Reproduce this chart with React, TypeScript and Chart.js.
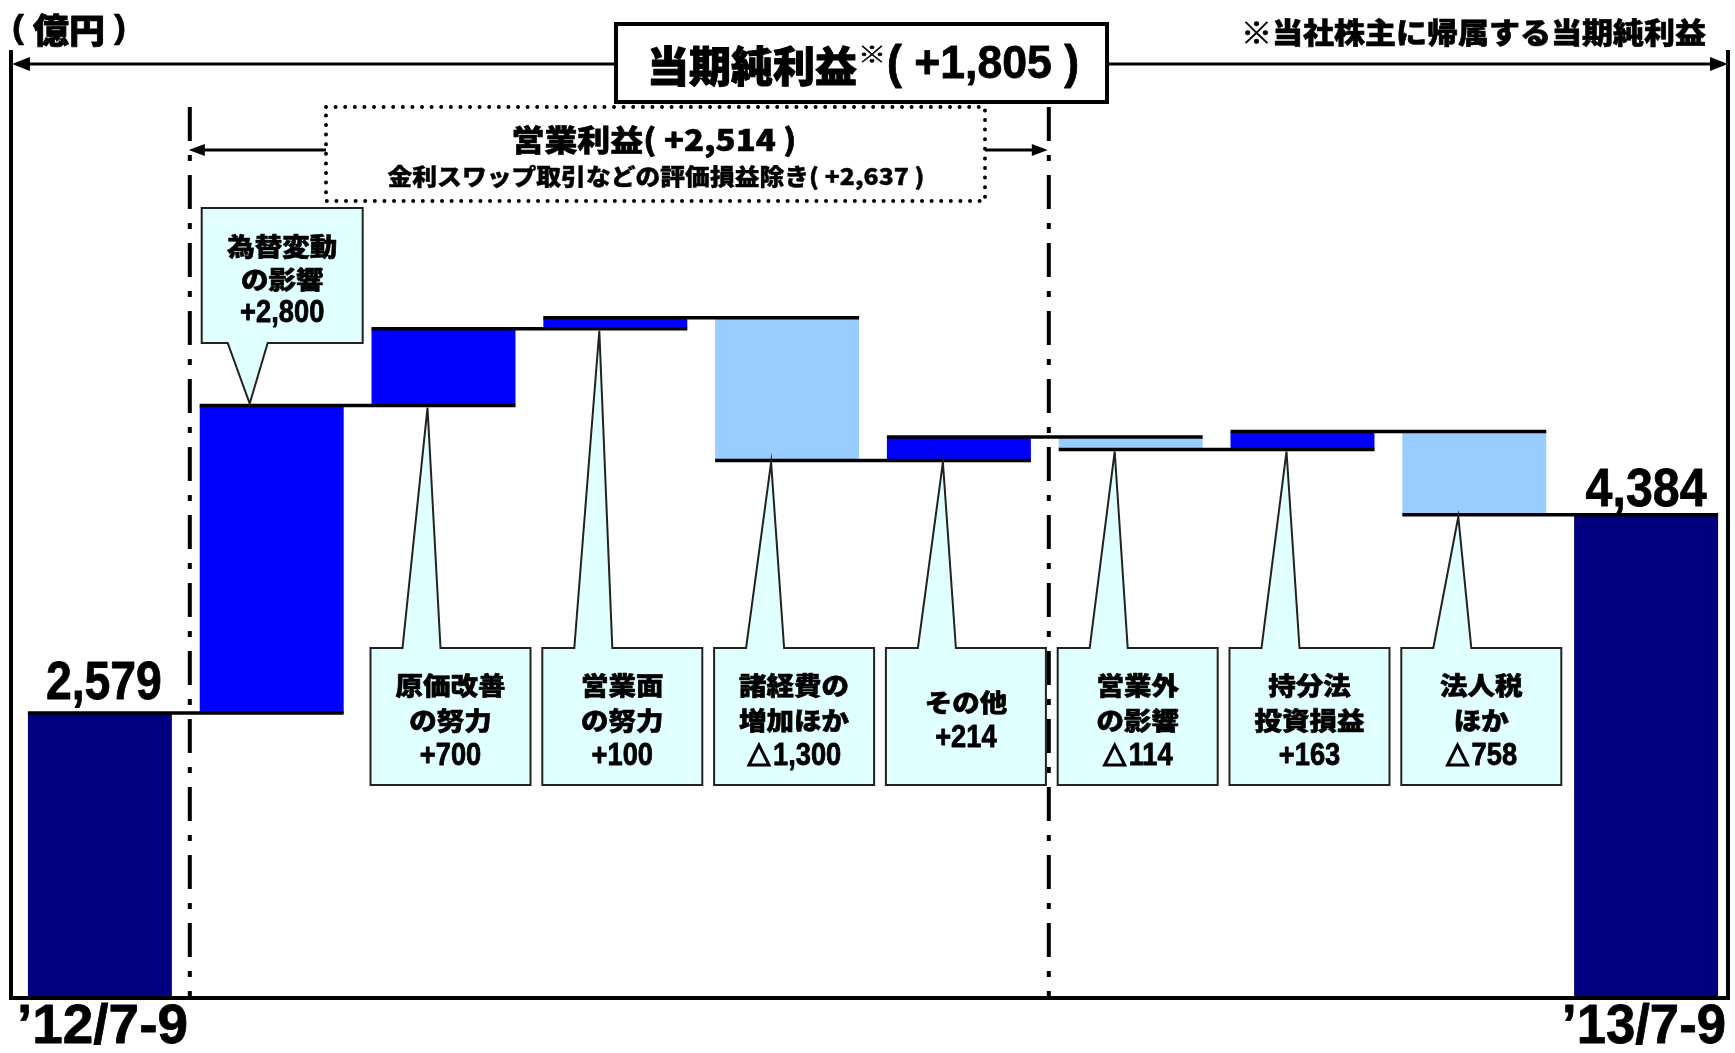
import React, { useEffect, useRef } from "react";
import { Chart, registerables } from "chart.js";
Chart.register(...registerables);

// ---------- data ----------
const categories = ["’12/7-9", "為替変動の影響", "原価改善の努力", "営業面の努力", "諸経費の増加ほか", "その他", "営業外の影響", "持分法投資損益", "法人税ほか", "’13/7-9"];
const calloutLines: string[][] = [[], ["為替変動", "の影響"], ["原価改善", "の努力"], ["営業面", "の努力"], ["諸経費の", "増加ほか"], ["その他"], ["営業外", "の影響"], ["持分法", "投資損益"], ["法人税", "ほか"], []];
const startValue = 2579;
const deltas = [2800, 700, 100, -1300, 214, -114, 163, -758];
const endValue = 4384;
const netIncomeChange = 1805;
const opProfitChange = 2514;
const opProfitExSwap = 2637;
const yMax = 8600;

const NAVY = "#000080";
const BLUE = "#0000FF";
const LIGHT = "#99CCFF";
const CALLOUT = "#E0FFFF";
const JP = '"Noto Sans CJK JP", sans-serif';
const NUM = '"Liberation Sans", Arial, sans-serif';

const fmt = (n: number) => Math.abs(n).toLocaleString("en-US");
const signed = (n: number) => (n >= 0 ? "+" : "△") + fmt(n);

function buildData() {
  const pairs: [number, number][] = [[0, startValue]];
  const colors: string[] = [NAVY];
  let level = startValue;
  for (const d of deltas) {
    pairs.push([level, level + d]);
    colors.push(d >= 0 ? BLUE : LIGHT);
    level += d;
  }
  pairs.push([0, endValue]);
  colors.push(NAVY);
  return { pairs, colors };
}

function drawText(ctx: CanvasRenderingContext2D, text: string, x: number, y: number, font: string, align: string = "center", targetWidth?: number, sx: number = 1, bold: number = 0) {
  ctx.save();
  ctx.font = font;
  ctx.textBaseline = "middle";
  ctx.textAlign = "left";
  ctx.fillStyle = "#000";
  const w = ctx.measureText(text).width;
  const s = targetWidth ? targetWidth / w : sx;
  const ww = w * s;
  const left = align === "center" ? x - ww / 2 : align === "right" ? x - ww : x;
  ctx.translate(left, y);
  ctx.scale(s, 1);
  ctx.fillText(text, 0, 0);
  if (bold > 0) {
    ctx.strokeStyle = "#000";
    ctx.lineWidth = bold;
    ctx.lineJoin = "round";
    ctx.strokeText(text, 0, 0);
  }
  ctx.restore();
}

function hArrow(ctx: CanvasRenderingContext2D, x1: number, x2: number, y: number, lw: number, head: number, hw: number) {
  const dir = x2 > x1 ? 1 : -1;
  ctx.save();
  ctx.strokeStyle = "#000";
  ctx.fillStyle = "#000";
  ctx.lineWidth = lw;
  ctx.beginPath();
  ctx.moveTo(x1, y);
  ctx.lineTo(x2 - dir * head * 0.8, y);
  ctx.stroke();
  ctx.beginPath();
  ctx.moveTo(x2, y);
  ctx.lineTo(x2 - dir * head, y - hw);
  ctx.lineTo(x2 - dir * head, y + hw);
  ctx.closePath();
  ctx.fill();
  ctx.restore();
}

function callout(ctx: CanvasRenderingContext2D, l: number, t: number, r: number, b: number, baseL: number, baseR: number, tipX: number, tipY: number, up: boolean) {
  ctx.save();
  ctx.beginPath();
  if (up) {
    ctx.moveTo(l, t);
    ctx.lineTo(baseL, t);
    ctx.lineTo(tipX, tipY);
    ctx.lineTo(baseR, t);
    ctx.lineTo(r, t);
    ctx.lineTo(r, b);
    ctx.lineTo(l, b);
  } else {
    ctx.moveTo(l, t);
    ctx.lineTo(r, t);
    ctx.lineTo(r, b);
    ctx.lineTo(baseR, b);
    ctx.lineTo(tipX, tipY);
    ctx.lineTo(baseL, b);
    ctx.lineTo(l, b);
  }
  ctx.closePath();
  ctx.fillStyle = CALLOUT;
  ctx.fill();
  ctx.lineWidth = 2;
  ctx.strokeStyle = "#222";
  ctx.lineJoin = "miter";
  ctx.stroke();
  ctx.restore();
}

function calloutText(ctx: CanvasRenderingContext2D, s: string, cx: number, y: number, isNum: boolean) {
  if (isNum && s.startsWith("△")) {
    const rest = s.slice(1);
    ctx.save();
    ctx.font = `bold 31px ${NUM}`;
    const wr = ctx.measureText(rest).width * 0.88;
    ctx.restore();
    const tw = 24;
    const gap = 2;
    const total = tw + gap + wr;
    const left = cx - total / 2;
    // triangle mark
    ctx.save();
    ctx.strokeStyle = "#000";
    ctx.lineWidth = 3;
    ctx.lineJoin = "miter";
    ctx.beginPath();
    ctx.moveTo(left + 2, y + 10);
    ctx.lineTo(left + tw / 2, y - 10);
    ctx.lineTo(left + tw - 2, y + 10);
    ctx.closePath();
    ctx.stroke();
    ctx.restore();
    drawText(ctx, rest, left + tw + gap, y + 1, `bold 31px ${NUM}`, "left", undefined, 0.88, 0.8);
  } else if (isNum) {
    drawText(ctx, s, cx, y + 1, `bold 31px ${NUM}`, "center", undefined, 0.88, 0.8);
  } else {
    drawText(ctx, s, cx, y, `900 25px ${JP}`, "center", undefined, 1.1, 0.6);
  }
}

const overlay = {
  id: "overlay",
  beforeDraw(chart: any) {
    const ctx = chart.ctx;
    ctx.save();
    ctx.fillStyle = "#fff";
    ctx.fillRect(0, 0, chart.width, chart.height);
    ctx.restore();
  },
  afterDatasetsDraw(chart: any) {
    const ctx: CanvasRenderingContext2D = chart.ctx;
    const meta = chart.getDatasetMeta(0);
    const ys = chart.scales.y;
    const pairs: [number, number][] = chart.data.datasets[0].data;
    const bars = meta.data;
    const area = chart.chartArea;
    const baseY = ys.getPixelForValue(0);

    // connector lines
    ctx.save();
    ctx.strokeStyle = "#000";
    ctx.lineWidth = 3.5;
    for (let i = 0; i < bars.length - 1; i++) {
      const lvl = pairs[i][1];
      const y = ys.getPixelForValue(lvl);
      const x1 = bars[i].x - bars[i].width / 2;
      const x2 = bars[i + 1].x + bars[i + 1].width / 2;
      ctx.beginPath();
      ctx.moveTo(x1, y);
      ctx.lineTo(x2, y);
      ctx.stroke();
    }
    ctx.restore();

    // frame lines
    const leftX = area.left - 3;
    const rightX = area.right - 4;
    ctx.save();
    ctx.strokeStyle = "#000";
    ctx.lineWidth = 4;
    ctx.beginPath();
    ctx.moveTo(leftX, 50);
    ctx.lineTo(leftX, baseY + 2);
    ctx.lineTo(rightX, baseY + 2);
    ctx.lineTo(rightX, 50);
    ctx.stroke();
    ctx.restore();

    // dash-dot separators
    const sep1 = (bars[0].x + bars[1].x) / 2 + 4;
    const sep2 = (bars[5].x + bars[6].x) / 2 + 4;
    ctx.save();
    ctx.strokeStyle = "#000";
    ctx.lineWidth = 4;
    ctx.setLineDash([34, 14, 6, 14]);
    for (const sx of [sep1, sep2]) {
      ctx.beginPath();
      ctx.moveTo(sx, 107);
      ctx.lineTo(sx, baseY);
      ctx.stroke();
    }
    ctx.restore();

    // top arrow line + title box
    const boxL = 616, boxR = 1107, boxT = 24, boxB = 102;
    hArrow(ctx, boxL, leftX + 1, 64, 3, 18, 7);
    hArrow(ctx, boxR, rightX, 64, 3, 18, 7);
    ctx.save();
    ctx.fillStyle = "#fff";
    ctx.fillRect(boxL, boxT, boxR - boxL, boxB - boxT);
    ctx.lineWidth = 4;
    ctx.strokeStyle = "#000";
    ctx.strokeRect(boxL, boxT, boxR - boxL, boxB - boxT);
    ctx.restore();
    drawText(ctx, "当期純利益", 647, 66, `900 42px ${JP}`, "left", 210, 1, 1);
    drawText(ctx, "※", 858, 54, `bold 22px ${JP}`, "left", 28, 1, 0.5);
    drawText(ctx, "( +" + fmt(netIncomeChange) + " )", 887, 65, `bold 46px ${NUM}`, "left", 192, 1, 0.8);

    // unit label
    drawText(ctx, "(", 12, 29, `bold 34px ${NUM}`, "left", 12, 1, 0.5);
    drawText(ctx, "億円", 33, 30, `900 34px ${JP}`, "left", 72, 1, 0.8);
    drawText(ctx, ")", 114, 29, `bold 34px ${NUM}`, "left", 12, 1, 0.5);
    drawText(ctx, "※当社株主に帰属する当期純利益", 1706, 33, `900 29px ${JP}`, "right", 465, 1, 0.6);

    // dotted operating profit box
    const dL = 326, dR = 985, dT = 107, dB = 201;
    ctx.save();
    ctx.strokeStyle = "#000";
    ctx.lineWidth = 4;
    ctx.lineCap = "round";
    ctx.setLineDash([0, 9.6]);
    ctx.beginPath();
    ctx.rect(dL, dT, dR - dL, dB - dT);
    ctx.stroke();
    ctx.restore();
    hArrow(ctx, dL, sep1 - 1, 150, 3, 16, 6);
    hArrow(ctx, dR, sep2 - 1, 150, 3, 16, 6);
    drawText(ctx, "営業利益( +" + fmt(opProfitChange) + " )", 654, 140, `900 30px ${JP}`, "center", 285, 1, 0.6);
    drawText(ctx, "金利スワップ取引などの評価損益除き( +" + fmt(opProfitExSwap) + " )", 656, 176, `900 23px ${JP}`, "center", 537, 1, 0.4);

    // top callout for bar 1
    {
      const b = bars[1];
      const l = b.x - 70, r = l + 161, t = 208, bt = 343;
      const tipY = ys.getPixelForValue(Math.max(pairs[1][0], pairs[1][1])) - 2;
      callout(ctx, l, t, r, bt, l + 26, l + 66, b.x - 22, tipY, false);
      const cx = (l + r) / 2;
      calloutText(ctx, calloutLines[1][0], cx, 246, false);
      calloutText(ctx, calloutLines[1][1], cx, 279, false);
      calloutText(ctx, signed(deltas[0]), cx, 312, true);
    }

    // bottom callouts
    for (let i = 2; i <= 8; i++) {
      const b = bars[i];
      const cx = b.x + 7;
      const l = cx - 80, r = cx + 80, t = 648, bt = 785;
      const tipY = ys.getPixelForValue(Math.min(pairs[i][0], pairs[i][1])) + 2;
      callout(ctx, l, t, r, bt, l + 32, l + 70, b.x - 16, tipY, true);
      const all = [...calloutLines[i], signed(deltas[i - 1])];
      const lh = 35;
      const y0 = 720 - ((all.length - 1) * lh) / 2;
      all.forEach((s, k) => calloutText(ctx, s, cx, y0 + k * lh, k === all.length - 1));
    }

    // value labels for totals
    const first = bars[0], last = bars[bars.length - 1];
    drawText(ctx, fmt(startValue), first.x + 4, ys.getPixelForValue(startValue) - 29, `bold 54px ${NUM}`, "center", 116, 1, 0.8);
    drawText(ctx, fmt(endValue), last.x + 0, ys.getPixelForValue(endValue) - 24, `bold 54px ${NUM}`, "center", 121, 1, 0.8);

    // category labels (ends)
    drawText(ctx, categories[0], 17, 1028, `bold 56px ${NUM}`, "left", 171, 1, 0.8);
    drawText(ctx, categories[categories.length - 1], 1726, 1028, `bold 56px ${NUM}`, "right", 164, 1, 0.8);
  },
};

export default function App() {
  const ref = useRef<HTMLCanvasElement>(null);
  useEffect(() => {
    if (!ref.current) return;
    const { pairs, colors } = buildData();
    const chart = new Chart(ref.current, {
      type: "bar",
      data: {
        labels: categories,
        datasets: [
          {
            data: pairs as any,
            backgroundColor: colors,
            borderWidth: 0,
            categoryPercentage: 1,
            barPercentage: 0.838,
          },
        ],
      },
      options: {
        animation: false,
        responsive: false,
        devicePixelRatio: 1,
        layout: { padding: { left: 14, right: 3, top: 52, bottom: 57 } },
        plugins: { legend: { display: false }, tooltip: { enabled: false }, title: { display: false } },
        scales: {
          x: { display: false, grid: { display: false } },
          y: { display: false, min: 0, max: yMax, grid: { display: false } },
        },
      },
      plugins: [overlay],
    });
    return () => chart.destroy();
  }, []);
  return (
    <div style={{ position: "absolute", left: 0, top: 0, width: 1735, height: 1053, background: "#fff" }}>
      <canvas ref={ref} width={1735} height={1053} style={{ width: 1735, height: 1053, display: "block" }} />
    </div>
  );
}
